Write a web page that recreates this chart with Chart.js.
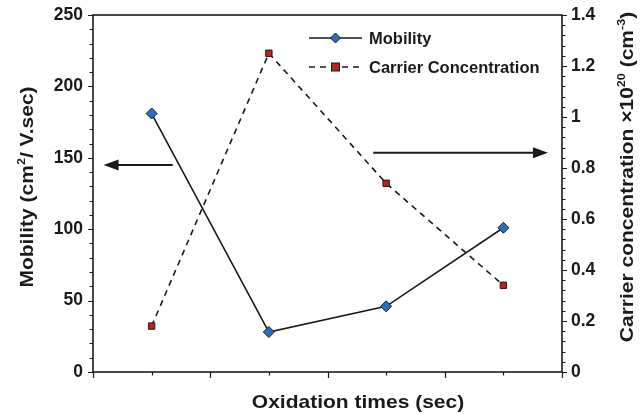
<!DOCTYPE html>
<html>
<head>
<meta charset="utf-8">
<script src="https://cdn.jsdelivr.net/npm/chart.js@4"></script>
<style>
  html, body { margin: 0; padding: 0; background: #fff; }
</style>
</head>
<body>
<canvas id="mobilityChart" width="643" height="414"></canvas>
<script>
// four oxidation runs, no labels printed on the axis
var runs = ['1', '2', '3', '4'];
var mobility = [181, 28, 46, 101];          // cm2/V.sec
var carrier = [0.18, 1.25, 0.74, 0.34];     // x10^20 cm-3

var FONT = '"Liberation Sans", Arial, sans-serif';
var INK = '#1a1a1a';

// write a line of text with superscript parts, centred on (x, y), rotated by rot
// (glyphs a little flattened across the reading direction)
function drawRich(ctx, parts, x, y, rot, size) {
    ctx.save();
    ctx.translate(x, y);
    ctx.rotate(rot);
    ctx.scale(1, 0.88);
    ctx.fillStyle = INK;
    ctx.textBaseline = 'alphabetic';
    ctx.textAlign = 'left';
    var total = 0;
    parts.forEach(function (p) {
        ctx.font = 'bold ' + (p.sup ? size * 0.6 : size) + 'px ' + FONT;
        p.w = ctx.measureText(p.t).width;
        total += p.w;
    });
    var cx = -total / 2;
    var base = size * 0.36;
    parts.forEach(function (p) {
        ctx.font = 'bold ' + (p.sup ? size * 0.6 : size) + 'px ' + FONT;
        ctx.fillText(p.t, cx, p.sup ? base - size * 0.42 : base);
        cx += p.w;
    });
    ctx.restore();
}

function arrow(ctx, x1, y1, x2, y2) {
    var dir = x2 > x1 ? 1 : -1;
    ctx.beginPath();
    ctx.moveTo(x1, y1);
    ctx.lineTo(x2 - dir * 12, y2);
    ctx.stroke();
    ctx.beginPath();
    ctx.moveTo(x2, y2);
    ctx.lineTo(x2 - dir * 15, y2 - 5.5);
    ctx.lineTo(x2 - dir * 15, y2 + 5.5);
    ctx.closePath();
    ctx.fill();
}

var frame = {
    id: 'frame',
    afterDraw: function (chart) {
        var ctx = chart.ctx;
        var a = chart.chartArea;
        var x = chart.scales.x, y = chart.scales.y, y1 = chart.scales.y1;
        var k;

        ctx.save();
        ctx.strokeStyle = INK;
        ctx.fillStyle = INK;

        // plot box
        ctx.lineWidth = 1.6;
        ctx.strokeRect(a.left, a.top, a.right - a.left, a.bottom - a.top);

        // tick marks, major and minor
        ctx.lineWidth = 1.2;
        ctx.beginPath();
        for (k = 0; k <= 25; k++) {
            var py = Math.round(y.getPixelForValue(k * 10)) + 0.5;
            ctx.moveTo(a.left - (k % 5 === 0 ? 5 : 3.5), py);
            ctx.lineTo(a.left, py);
        }
        for (k = 0; k <= 35; k++) {
            var ry = Math.round(y1.getPixelForValue(k * 0.04)) + 0.5;
            ctx.moveTo(a.right, ry);
            ctx.lineTo(a.right + (k % 5 === 0 ? 5 : 3.5), ry);
        }
        for (k = 0; k <= runs.length * 2; k++) {
            var px = Math.round(x.getPixelForValue(k / 2 - 0.5)) + 0.5;
            ctx.moveTo(px, a.bottom);
            ctx.lineTo(px, a.bottom + (k % 2 === 0 ? 6 : 3.5));
        }
        ctx.stroke();

        // arrows pointing each curve to its axis
        ctx.lineWidth = 2;
        arrow(ctx, x.getPixelForValue(0.18), y.getPixelForValue(145),
                   x.getPixelForValue(-0.41), y.getPixelForValue(145));
        arrow(ctx, x.getPixelForValue(1.89), y1.getPixelForValue(0.86),
                   x.getPixelForValue(3.38), y1.getPixelForValue(0.86));

        // legend
        var lx = a.left + 216, ly = a.top + 23, gap = 29;
        ctx.lineWidth = 1.6;
        ctx.beginPath();
        ctx.moveTo(lx, ly);
        ctx.lineTo(lx + 53, ly);
        ctx.stroke();
        ctx.setLineDash([6, 5]);
        ctx.beginPath();
        ctx.moveTo(lx, ly + gap);
        ctx.lineTo(lx + 53, ly + gap);
        ctx.stroke();
        ctx.setLineDash([]);
        ctx.lineWidth = 1;
        ctx.fillStyle = '#2b6dbf';
        ctx.beginPath();
        ctx.moveTo(lx + 26.5, ly - 5);
        ctx.lineTo(lx + 31.5, ly);
        ctx.lineTo(lx + 26.5, ly + 5);
        ctx.lineTo(lx + 21.5, ly);
        ctx.closePath();
        ctx.fill();
        ctx.stroke();
        ctx.fillStyle = '#c4201b';
        ctx.fillRect(lx + 22.5, ly + gap - 4, 8, 8);
        ctx.strokeRect(lx + 22.5, ly + gap - 4, 8, 8);
        ctx.fillStyle = INK;
        ctx.font = 'bold 16.5px ' + FONT;
        ctx.textBaseline = 'middle';
        ctx.fillText('Mobility', lx + 60, ly + 1);
        ctx.fillText('Carrier Concentration', lx + 60, ly + gap + 1);

        ctx.restore();

        // axis titles
        drawRich(ctx, [{ t: 'Mobility (cm' }, { t: '2', sup: true }, { t: '/ V.sec)' }],
                 26, 187, -Math.PI / 2, 21);
        drawRich(ctx, [{ t: 'Carrier concentration \u00d710' }, { t: '20', sup: true },
                       { t: ' (cm' }, { t: '-3', sup: true }, { t: ')' }],
                 626, 177, -Math.PI / 2, 21);
        drawRich(ctx, [{ t: 'Oxidation times (sec)' }], 358, 401, 0, 21);
    }
};

var tickFont = { family: FONT, size: 17.5, weight: 'bold' };

// fixed side widths; label overhang must not push the plot box down
function fitSide(w) {
    return function (s) {
        s.width = w;
        s.paddingTop = 0;
        s.paddingBottom = 0;
    };
}

new Chart(document.getElementById('mobilityChart').getContext('2d'), {
    type: 'line',
    data: {
        labels: runs,
        datasets: [{
            label: 'Mobility',
            data: mobility,
            yAxisID: 'y',
            borderColor: INK,
            borderWidth: 1.6,
            pointStyle: 'rectRot',
            pointRadius: 5.5,
            pointBackgroundColor: '#2b6dbf',
            pointBorderColor: INK,
            pointBorderWidth: 1,
            tension: 0
        }, {
            label: 'Carrier Concentration',
            data: carrier,
            yAxisID: 'y1',
            borderColor: INK,
            borderWidth: 1.6,
            borderDash: [6, 5],
            pointStyle: 'rect',
            pointRadius: 4.5,
            pointBackgroundColor: '#c4201b',
            pointBorderColor: INK,
            pointBorderWidth: 1,
            tension: 0
        }]
    },
    options: {
        responsive: false,
        animation: false,
        layout: { padding: { top: 15, left: 0, right: 0, bottom: 0 } },
        plugins: {
            legend: { display: false },
            tooltip: { enabled: false }
        },
        scales: {
            x: {
                type: 'category',
                offset: true,
                grid: { display: false, drawTicks: false },
                border: { display: false },
                ticks: { display: false },
                afterFit: function (s) { s.height = 42; s.paddingLeft = 0; s.paddingRight = 0; }
            },
            y: {
                position: 'left',
                min: 0,
                max: 250,
                grid: { display: false, drawTicks: false },
                border: { display: false },
                ticks: { stepSize: 50, padding: 10, color: INK, font: tickFont },
                afterFit: fitSide(93)
            },
            y1: {
                position: 'right',
                min: 0,
                max: 1.4,
                grid: { display: false, drawTicks: false },
                border: { display: false },
                ticks: {
                    stepSize: 0.2,
                    padding: 9,
                    color: INK,
                    font: tickFont,
                    callback: function (v) { return String(+v.toFixed(1)); }
                },
                afterFit: fitSide(81)
            }
        }
    },
    plugins: [frame]
});
</script>
</body>
</html>
